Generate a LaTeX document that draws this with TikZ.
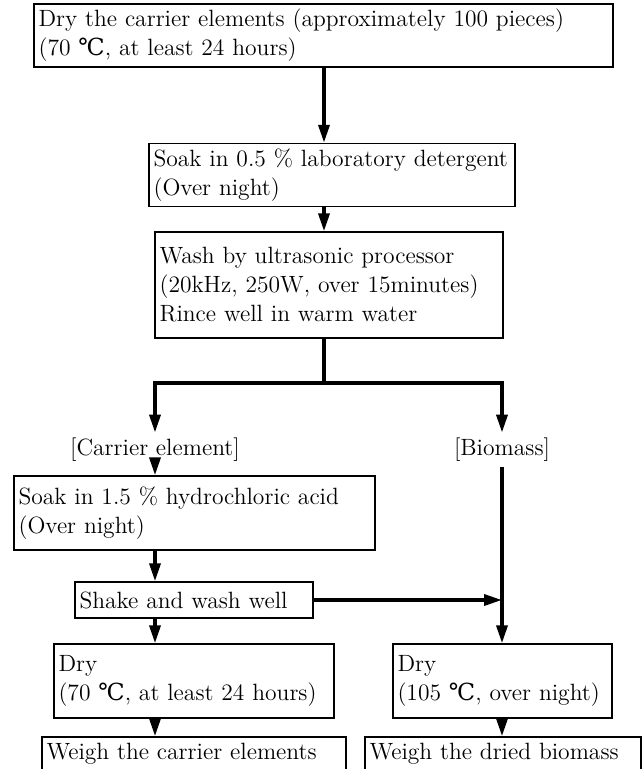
\documentclass[tikz,border=0pt]{standalone}
\usepackage{fontspec}
\usetikzlibrary{arrows.meta}
\newfontfamily\degfont{DejaVu Serif}
\newcommand{\degC}{{\degfont ℃}}

\begin{document}
\begin{tikzpicture}
		[x=0.02cm,y=-0.02cm,
		%Styles
		box/.style={draw,line width=0.8pt,inner xsep=2.5pt,inner ysep=3pt,align=left,font=\fontsize{13.4}{16.5}\selectfont},
		branch text/.style={inner sep=3pt,font=\fontsize{13.4}{16.5}\selectfont},
		flow/.style={line width=2pt},
		flow arrow/.style={flow,-{Triangle[length=3.6mm,width=2.2mm]}}
		]
		
		\clip (0,0) rectangle (644,769);
		
		%Columns
		\coordinate (trunk) at (324,0);
		\coordinate (split) at (324,383);
		
		%The steps
		\node[box,text width=11.40cm,minimum height=1.14cm] (dry) at (323.5,35.5)
			{Dry the carrier elements (approximately 100 pieces)\\(70 \degC, at least 24 hours)};
		\node[box,text width=7.14cm,minimum height=1.12cm] (soak) at (332,175)
			{Soak in 0.5 \% laboratory detergent\\(Over night)};
		\node[box,text width=6.78cm,minimum height=2.12cm] (wash) at (329,285)
			{Wash by ultrasonic processor\\(20kHz, 250W, over 15minutes)\\Rince well in warm water};
		
		\node[branch text] (carrier) at (155,450) {[Carrier element]};
		\node[branch text] (biomass) at (502,450) {[Biomass]};
		
		\node[box,text width=7.04cm,minimum height=1.48cm] (acid) at (194.5,513)
			{Soak in 1.5 \% hydrochloric acid\\(Over night)};
		\node[box,text width=4.58cm,minimum height=0.72cm] (shake) at (194,600)
			{Shake and wash well};
		\node[box,text width=5.42cm,minimum height=1.48cm] (dryC) at (194,681)
			{Dry\\(70 \degC, at least 24 hours)};
		\node[box,text width=4.20cm,minimum height=1.48cm] (dryB) at (502.5,681)
			{Dry\\(105 \degC, over night)};
		\node[box,text width=5.90cm,minimum height=0.68cm] (weighC) at (194,754)
			{Weigh the carrier elements};
		\node[box,text width=5.34cm,minimum height=0.68cm] (weighB) at (503,754)
			{Weigh the dried biomass};
		
		%Connectors
		\draw[flow arrow] (dry.south -| trunk) -- (soak.north -| trunk);
		\draw[flow arrow] (soak.south -| trunk) -- (wash.north -| trunk);
		\draw[flow] (wash.south -| trunk) -- (split);
		\draw[flow arrow] (split) -| (carrier);
		\draw[flow arrow] (split) -| (biomass);
		
		\draw[flow arrow] (carrier) -- (carrier |- acid.north);
		\draw[flow arrow] (acid.south -| carrier) -- (shake.north -| carrier);
		\draw[flow arrow] (shake.south -| carrier) -- (dryC.north -| carrier);
		\draw[flow arrow] (dryC.south -| carrier) -- (weighC.north -| carrier);
		
		\draw[flow arrow] (biomass) -- (biomass |- dryB.north);
		\draw[flow arrow] (shake.east) -- (shake.east -| biomass);
		\draw[flow arrow] (dryB.south -| biomass) -- (weighB.north -| biomass);
	\end{tikzpicture}
\end{document}
